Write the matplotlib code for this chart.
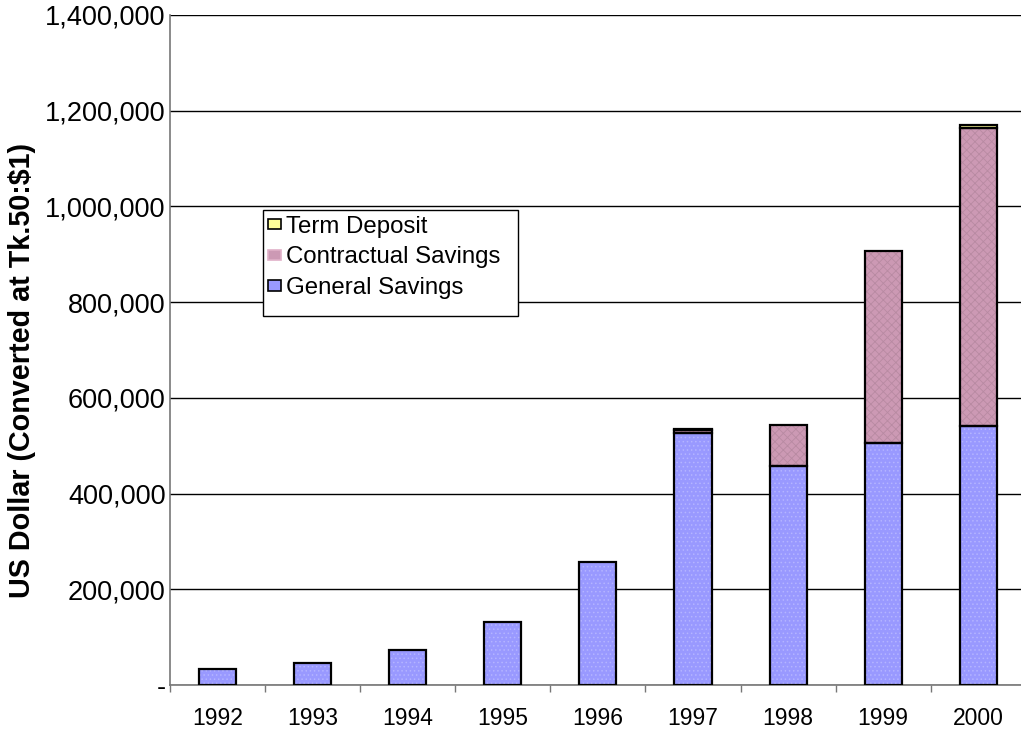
import numpy as np
import matplotlib
matplotlib.use('Agg')
import matplotlib.pyplot as plt
from matplotlib.ticker import FuncFormatter, FixedLocator
from matplotlib.patches import Patch, Rectangle

plt.rcParams['font.family'] = ['Liberation Sans', 'DejaVu Sans']

# data
years = ['1992', '1993', '1994', '1995', '1996', '1997', '1998', '1999', '2000']
general = [34000, 46600, 73800, 132300, 257700, 527000, 457500, 505500, 541000]
contractual = [0, 0, 0, 0, 0, 5000, 86000, 401500, 623000]
term = [0, 0, 0, 0, 0, 2000, 0, 0, 6000]

c_gen = '#9999ff'
c_con = '#cc99b4'
c_term = '#ffff99'

fig = plt.figure(figsize=(10.21, 7.31), dpi=100)
ax = fig.add_axes([170/1021, 46/731, 851/1021, 670/731])

x = np.arange(len(years))
w = 0.39
gen = np.array(general)
con = np.array(contractual)
trm = np.array(term)

# fills with a light texture, then black outlines on top
plt.rcParams['hatch.linewidth'] = 0.6
ax.bar(x, gen, w, color=c_gen, hatch='....', edgecolor='#b4b4ff', linewidth=0, zorder=3)
ax.bar(x, con, w, bottom=gen, color=c_con, hatch='xxxx', edgecolor='#b88aa2', linewidth=0, zorder=3)
ax.bar(x, trm, w, bottom=gen + con, color=c_term, linewidth=0, zorder=3)
for vals, bot in [(gen, 0), (con, gen), (trm, gen + con)]:
    m = vals > 0
    ax.bar(x[m], vals[m], w, bottom=(bot[m] if np.ndim(bot) else 0), fill=False,
           edgecolor='black', linewidth=1.6, zorder=4)

ax.set_ylim(0, 1400000)
ax.set_xlim(-0.5, 8.45)
ax.set_yticks(np.arange(0, 1400001, 200000))
ax.yaxis.set_major_formatter(FuncFormatter(lambda v, p: '-' if v == 0 else f'{int(v):,}'))
ax.grid(axis='y', color='black', linewidth=1.0, zorder=0)
ax.set_axisbelow(True)

ax.set_xticks(x)
ax.set_xticklabels(years, fontsize=16.5)
ax.xaxis.set_minor_locator(FixedLocator(np.arange(-0.5, 9, 1)))
ax.tick_params(axis='x', which='major', length=0, pad=16)
ax.tick_params(axis='x', which='minor', length=5, color='#777777', width=1)
ax.tick_params(axis='y', length=0, pad=3, labelsize=19.5)

for s in ['top', 'right']:
    ax.spines[s].set_visible(False)
ax.spines['left'].set_color('#777777')
ax.spines['bottom'].set_color('#777777')
ax.spines['left'].set_linewidth(1.2)
ax.spines['bottom'].set_linewidth(1.2)

fig.text(22/1021, 1 - 371/731, 'US Dollar (Converted at Tk.50:$1)', rotation=90,
         fontsize=20.7, fontweight='bold', ha='center', va='center')

# legend box (drawn by hand, it is roomier than the entries)
box = Rectangle((263/1021, 1 - 316/731), 255/1021, 106/731, transform=fig.transFigure,
                facecolor='white', edgecolor='black', linewidth=1.0, zorder=4)
fig.add_artist(box)

handles = [Patch(facecolor=c_term, edgecolor='black', linewidth=1.2),
           Patch(facecolor=c_con, edgecolor='#e0b0c8', linewidth=1.2),
           Patch(facecolor=c_gen, edgecolor='black', linewidth=1.2)]
leg = fig.legend(handles, ['Term Deposit', 'Contractual Savings', 'General Savings'],
                 loc='upper left', bbox_to_anchor=(263/1021, 1 - 211/731),
                 fontsize=17.3, frameon=False,
                 handlelength=0.55, handleheight=0.3, handletextpad=0.2,
                 labelspacing=0.36, borderpad=0.2, borderaxespad=0)
leg.set_zorder(5)

fig.savefig('out.png', dpi=100)
